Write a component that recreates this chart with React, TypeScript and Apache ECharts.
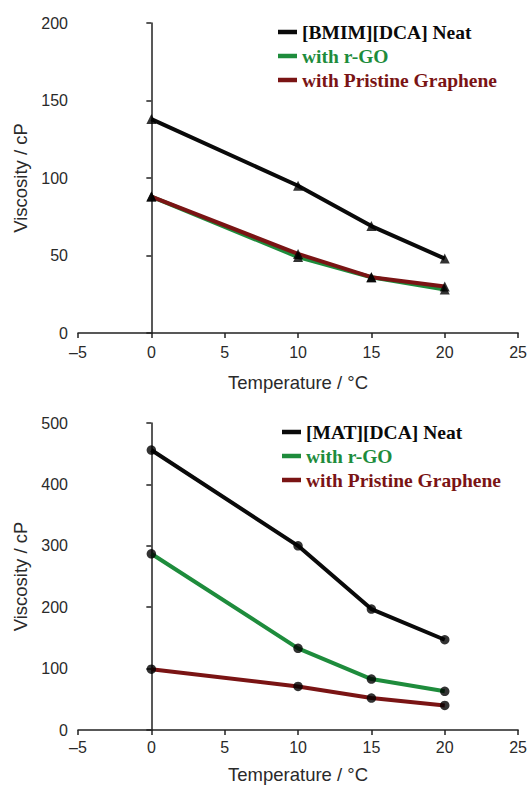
import React, { useEffect, useRef } from "react";
import * as echarts from "echarts";

const temps = [0, 10, 15, 20];
const xTicks = [-5, 0, 5, 10, 15, 20, 25];
const topYTicks = [0, 50, 100, 150, 200];
const bottomYTicks = [0, 100, 200, 300, 400, 500];

const bmimNames = ["[BMIM][DCA] Neat", "with r-GO", "with Pristine Graphene"];
const bmimNeat = [138, 95, 69, 48];
const bmimRGO = [88, 49, 36, 28];
const bmimPristine = [88, 51, 36, 30];

const matNames = ["[MAT][DCA] Neat", "with r-GO ", "with Pristine Graphene "];
const matNeat = [456, 300, 197, 147];
const matRGO = [287, 133, 83, 63];
const matPristine = [99, 71, 52, 40];

const colors = ["#0a0a0a", "#1e8c3c", "#7a1414"];

const pair = (ys: number[]) => temps.map((t, i) => [t, ys[i]]);

const AX = "#222";
const SANS = "'Liberation Sans', Arial, sans-serif";
const SERIF = "'Liberation Serif', 'Times New Roman', serif";

function xAxis(gridIndex: number, labelMargin: number, nameGap: number) {
  return {
    type: "value",
    gridIndex,
    min: xTicks[0],
    max: xTicks[xTicks.length - 1],
    interval: xTicks[1] - xTicks[0],
    name: "Temperature / °C",
    nameLocation: "middle",
    nameGap,
    nameTextStyle: { fontFamily: SANS, fontSize: 18.5, color: "#2a2a2a" },
    axisLine: { lineStyle: { color: AX, width: 1.5 } },
    axisTick: { show: true, inside: false, length: 5, lineStyle: { color: AX, width: 1.5 } },
    axisLabel: {
      fontFamily: SANS,
      fontSize: 16,
      color: "#2a2a2a",
      margin: labelMargin,
      formatter: (v: number) => (v < 0 ? "–" + Math.abs(v) : String(v)),
    },
    splitLine: { show: false },
  };
}

function yAxis(gridIndex: number, ticks: number[]) {
  return {
    type: "value",
    gridIndex,
    min: ticks[0],
    max: ticks[ticks.length - 1],
    interval: ticks[1] - ticks[0],
    name: "Viscosity / cP",
    nameLocation: "middle",
    nameGap: 47,
    nameTextStyle: { fontFamily: SANS, fontSize: 18.5, color: "#2a2a2a" },
    axisLine: { show: true, lineStyle: { color: AX, width: 1.5 } },
    axisTick: { show: true, inside: false, length: 5, lineStyle: { color: AX, width: 1.5 } },
    axisLabel: { fontFamily: SANS, fontSize: 16, color: "#2a2a2a", margin: 10 },
    splitLine: { show: false },
  };
}

function lineSeries(name: string, ys: number[], idx: number, color: string) {
  return {
    type: "line",
    name,
    xAxisIndex: idx,
    yAxisIndex: idx,
    data: pair(ys),
    showSymbol: false,
    symbol: "none",
    lineStyle: { color, width: 4 },
    itemStyle: { color },
    z: 2,
  };
}

function markerSeries(ys: number[], idx: number, symbol: string, size: number) {
  return {
    type: "scatter",
    name: "",
    xAxisIndex: idx,
    yAxisIndex: idx,
    data: pair(ys),
    symbol,
    symbolSize: size,
    itemStyle: { color: "#000" },
    z: 5,
    silent: true,
  };
}

function legend(names: string[], left: number, top: number) {
  return {
    orient: "vertical",
    left,
    top,
    padding: 0,
    itemWidth: 19,
    itemHeight: 4.5,
    itemGap: 4,
    icon: "rect",
    selectedMode: false,
    textStyle: { fontFamily: SERIF, fontWeight: "bold", fontSize: 19.5 },
    data: names.map((n, i) => ({
      name: n,
      itemStyle: { color: colors[i] },
      textStyle: { color: colors[i], fontFamily: SERIF, fontWeight: "bold", fontSize: 19.5 },
    })),
  };
}

export default function App() {
  const ref = useRef<HTMLDivElement>(null);
  useEffect(() => {
    if (!ref.current) return;
    const chart = echarts.init(ref.current, null, { renderer: "svg" });
    chart.setOption({
      animation: false,
      backgroundColor: "#fff",
      grid: [
        { left: 78, top: 23, width: 443, height: 310 },
        { left: 78, top: 423, width: 443, height: 308 },
      ],
      xAxis: [xAxis(0, 11, 40), xAxis(1, 9.5, 35)],
      yAxis: [yAxis(0, topYTicks), yAxis(1, bottomYTicks)],
      legend: [legend(bmimNames, 278, 22), legend(matNames, 282, 422)],
      series: [
        lineSeries(bmimNames[0], bmimNeat, 0, colors[0]),
        lineSeries(bmimNames[1], bmimRGO, 0, colors[1]),
        lineSeries(bmimNames[2], bmimPristine, 0, colors[2]),
        markerSeries(bmimNeat, 0, "triangle", 10),
        markerSeries(bmimRGO, 0, "triangle", 10),
        markerSeries(bmimPristine, 0, "triangle", 10),
        lineSeries(matNames[0], matNeat, 1, colors[0]),
        lineSeries(matNames[1], matRGO, 1, colors[1]),
        lineSeries(matNames[2], matPristine, 1, colors[2]),
        markerSeries(matNeat, 1, "circle", 9.5),
        markerSeries(matRGO, 1, "circle", 9.5),
        markerSeries(matPristine, 1, "circle", 9.5),
      ],
    });
    return () => chart.dispose();
  }, []);
  return (
    <div
      ref={ref}
      style={{ position: "absolute", left: 0, top: 0, width: 530, height: 785, background: "#fff" }}
    />
  );
}
